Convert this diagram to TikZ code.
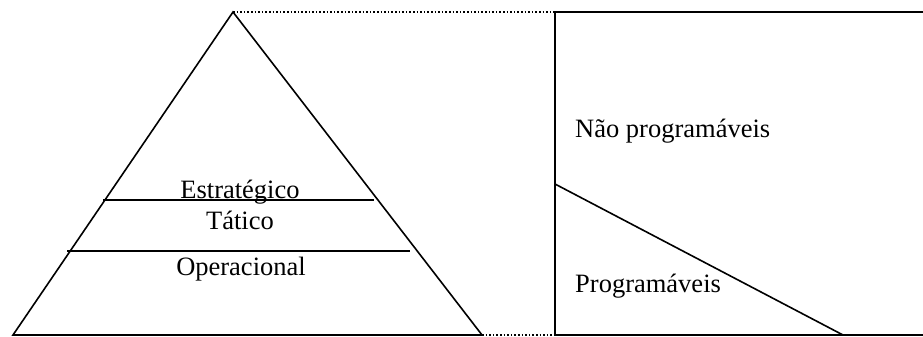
\documentclass[tikz,border=0pt]{standalone}
\usepackage{fontspec}
\setmainfont{Liberation Serif}
\usepackage{tikz}
\usetikzlibrary{positioning,calc}
\tikzset{
  ln/.style={line width=1.6pt,black},
  dt/.style={line width=1.6pt,black,dash pattern=on 1.6pt off 2pt},
  lbl/.style={inner sep=0pt,anchor=base,font=\fontsize{26.5}{30}\selectfont},
  lblL/.style={lbl,anchor=base west}
}
\begin{document}
\begin{tikzpicture}[x=1pt,y=-1pt]
  \useasboundingbox (0,0) rectangle (923,337);
  % pyramid
  \coordinate (apex) at (233,12);
  \coordinate (bl) at (13,335);
  \coordinate (br) at (482,335);
  \coordinate (s1l) at (103,200);
  \coordinate (s1r) at (374,200);
  \coordinate (s2l) at (67,251);
  \coordinate (s2r) at (410,251);
  \draw[ln] (bl) -- (apex) -- (br) -- cycle;
  \draw[ln] (s1l) -- (s1r);
  \draw[ln] (s2l) -- (s2r);
  \node[lbl] (est) at (240,198) {Estratégico};
  \node[lbl] (tat) at (240,229) {Tático};
  \node[lbl] (ope) at (241,275) {Operacional};
  % decisions box
  \coordinate (tl) at (555,12);
  \coordinate (tr) at (923,12);
  \coordinate (bbl) at (555,335);
  \coordinate (bbr) at (923,335);
  \coordinate (dg1) at (555,184);
  \coordinate (dg2) at (843,335);
  \draw[ln] (tr) -- (tl) -- (bbl) -- (bbr);
  \draw[ln] (dg1) -- (dg2);
  \node[lblL] (nprog) at (575,137) {Não programáveis};
  \node[lblL] (prog) at (575,292) {Programáveis};
  % dotted links
  \draw[dt] (apex) -- (tl);
  \draw[dt] (br) -- (bbl);
\end{tikzpicture}
\end{document}
